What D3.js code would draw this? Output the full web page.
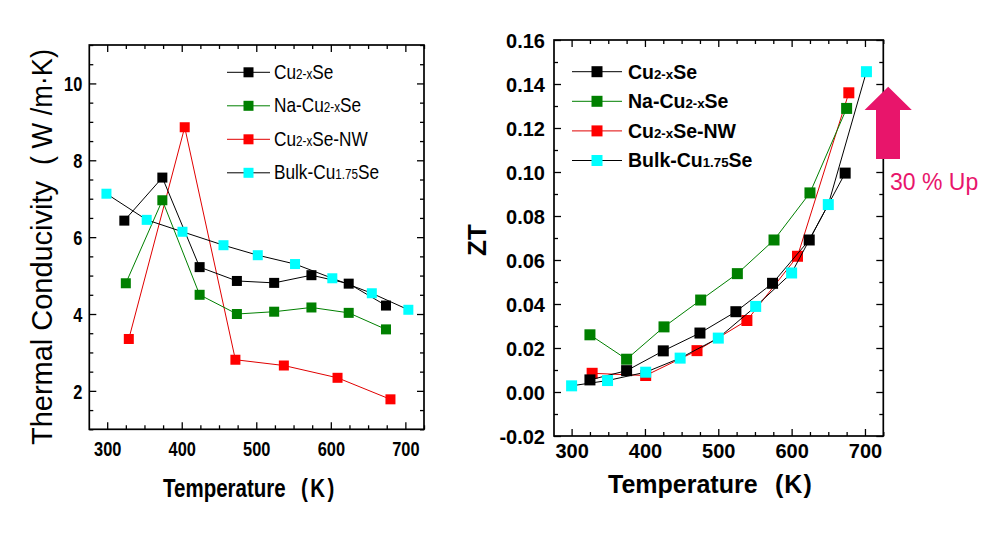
<!DOCTYPE html>
<html>
<head>
<meta charset="utf-8">
<script src="https://cdn.jsdelivr.net/npm/d3@7"></script>
<style>
  body { margin: 0; background: #fff; }
  svg { display: block; }
</style>
</head>
<body>
<script>
// ---------------- DATA ----------------
// Left panel: thermal conductivity (W/m·K)
const tempCuL   = [323, 374, 424, 474, 524, 574, 624, 674];
const kCu       = [6.43, 7.55, 5.22, 4.86, 4.81, 5.01, 4.79, 4.22];
const tempNaL   = [325, 374, 424, 474, 524, 574, 624, 674];
const kNa       = [4.80, 6.96, 4.50, 4.00, 4.06, 4.17, 4.03, 3.60];
const tempNWL   = [329, 404, 472, 537, 609, 680];
const kNW       = [3.35, 8.86, 2.81, 2.66, 2.34, 1.78];
const tempBulkL = [299, 353, 401, 456, 502, 552, 602, 655, 704];
const kBulk     = [7.13, 6.45, 6.14, 5.79, 5.53, 5.30, 4.93, 4.54, 4.11];

// Right panel: ZT
const tempCuR   = [325, 375, 425, 475, 524, 574, 624, 673];
const ztCu      = [0.0055, 0.0097, 0.0187, 0.0268, 0.0365, 0.0494, 0.0691, 0.0995];
const tempNaR   = [325, 375, 426, 476, 526, 576, 625, 675];
const ztNa      = [0.0260, 0.0149, 0.0296, 0.0418, 0.0538, 0.0691, 0.0905, 0.1289];
const tempNWR   = [328, 401, 471, 539, 608, 678];
const ztNW      = [0.0085, 0.0075, 0.0188, 0.0325, 0.0617, 0.1360];
const tempBulkR = [300, 349, 401, 448, 500, 551, 600, 650, 702];
const ztBulk    = [0.0028, 0.0052, 0.0090, 0.0154, 0.0245, 0.0389, 0.0541, 0.0852, 0.1456];

// Legend labels (text in {} is drawn smaller)
const seriesNames = ["Cu{2-x}Se", "Na-Cu{2-x}Se", "Cu{2-x}Se-NW", "Bulk-Cu{1.75}Se"];
const markerColors = ["#000000", "#008000", "#ff0000", "#00ffff"];
const lineColors   = ["#000000", "#008000", "#e00000", "#000000"];

// Tick labels
const xTicks  = [300, 400, 500, 600, 700];
const yTicksL = [2, 4, 6, 8, 10];
const yTicksR = [-0.02, 0, 0.02, 0.04, 0.06, 0.08, 0.10, 0.12, 0.14, 0.16];

const annotation = "30 % Up";

// ---------------- DRAW ----------------
const svg = d3.select("body").append("svg").attr("width", 1003).attr("height", 536);
const NARROW = 0.82;
const FF = "'Liberation Sans', Arial, sans-serif";

function parts(name) {
  const out = [];
  const re = /([^{]+)|\{([^}]*)\}/g;
  let m;
  while ((m = re.exec(name))) {
    if (m[1] !== undefined) out.push({t: m[1], sub: false});
    else out.push({t: m[2], sub: true});
  }
  return out;
}

function panel(cfg) {
  const g = svg.append("g");
  const x = d3.scaleLinear().domain(cfg.xDom).range([cfg.x0, cfg.x1]);
  const y = d3.scaleLinear().domain(cfg.yDom).range([cfg.y1, cfg.y0]);

  const xMinor = d3.range(275, 726, 25).filter(v => v >= cfg.xDom[0] && v <= cfg.xDom[1] && v % 100 !== 0);
  const yMinor = cfg.yMinor;

  const mk = (axisFn, scale, vals, size, fmt) =>
    axisFn(scale).tickValues(vals).tickSize(size).tickFormat(fmt);

  const bottom = g.append("g").attr("transform", `translate(0,${cfg.y1})`)
    .call(mk(d3.axisBottom, x, xTicks, -7, d3.format("d")));
  g.append("g").attr("transform", `translate(0,${cfg.y1})`).call(mk(d3.axisBottom, x, xMinor, -4, ""));
  g.append("g").attr("transform", `translate(0,${cfg.y0})`).call(mk(d3.axisTop, x, xTicks, -7, ""));
  g.append("g").attr("transform", `translate(0,${cfg.y0})`).call(mk(d3.axisTop, x, xMinor, -4, ""));
  const left = g.append("g").attr("transform", `translate(${cfg.x0},0)`)
    .call(mk(d3.axisLeft, y, cfg.yTicks, -7, cfg.yFmt));
  g.append("g").attr("transform", `translate(${cfg.x0},0)`).call(mk(d3.axisLeft, y, yMinor, -4, ""));
  g.append("g").attr("transform", `translate(${cfg.x1},0)`).call(mk(d3.axisRight, y, cfg.yTicks, -7, ""));
  g.append("g").attr("transform", `translate(${cfg.x1},0)`).call(mk(d3.axisRight, y, yMinor, -4, ""));

  g.selectAll(".domain").remove();
  g.selectAll(".tick line").attr("stroke", "#000").attr("stroke-width", 1.3);

  bottom.selectAll("text")
    .attr("y", 0).attr("dy", 0)
    .attr("transform", `translate(0,${cfg.xLabelDy}) scale(${cfg.narrow},1)`)
    .attr("font-family", FF)
    .attr("font-weight", "bold").attr("font-size", cfg.tickFont).attr("fill", "#000");
  left.selectAll("text")
    .attr("x", 0).attr("dy", "0.36em")
    .attr("transform", `translate(${-cfg.yLabelDx},0) scale(${cfg.narrow},1)`)
    .attr("font-family", FF)
    .attr("font-weight", "bold").attr("font-size", cfg.tickFont).attr("fill", "#000");

  // frame
  g.append("rect").attr("x", cfg.x0).attr("y", cfg.y0)
    .attr("width", cfg.x1 - cfg.x0).attr("height", cfg.y1 - cfg.y0)
    .attr("fill", "none").attr("stroke", "#000").attr("stroke-width", 1.7);

  // series: draw order NW, Na, Cu, Bulk
  const order = [2, 1, 0, 3];
  const line = d3.line().x(d => x(d[0])).y(d => y(d[1]));
  order.forEach(i => {
    const s = cfg.series[i];
    const pts = s.t.map((t, j) => [t, s.v[j]]);
    g.append("path").attr("d", line(pts)).attr("fill", "none")
      .attr("stroke", lineColors[i]).attr("stroke-width", 1);
    g.selectAll(null).data(pts).enter().append("rect")
      .attr("x", d => x(d[0]) - cfg.ms / 2).attr("y", d => y(d[1]) - cfg.ms / 2)
      .attr("width", cfg.ms).attr("height", cfg.ms)
      .attr("fill", markerColors[i]);
  });

  // legend
  const lg = cfg.legend;
  seriesNames.forEach((name, i) => {
    const cy = lg.y + i * lg.dy;
    g.append("line").attr("x1", lg.lx0).attr("x2", lg.lx1).attr("y1", cy).attr("y2", cy)
      .attr("stroke", lineColors[i]).attr("stroke-width", 1);
    g.append("rect").attr("x", (lg.lx0 + lg.lx1) / 2 - lg.ms / 2).attr("y", cy - lg.ms / 2)
      .attr("width", lg.ms).attr("height", lg.ms).attr("fill", markerColors[i]);
    const t = g.append("text")
      .attr("transform", `translate(${lg.tx},${cy + lg.base}) scale(${cfg.narrow},1)`)
      .attr("font-family", FF)
      .attr("font-weight", lg.weight).attr("font-size", lg.font).attr("fill", "#000");
    parts(name).forEach(p => {
      t.append("tspan").text(p.t).attr("font-size", p.sub ? lg.font * 0.68 : lg.font);
    });
  });
  return {g, x, y};
}

// Left panel
panel({
  x0: 89.3, x1: 424, y0: 45, y1: 429.3,
  xDom: [276, 725], yDom: [1, 11],
  yTicks: yTicksL, yMinor: d3.range(1, 11.01, 0.5).filter(v => v % 2 !== 0),
  yFmt: d3.format("d"), narrow: NARROW, tickFont: 20, xLabelDy: 27, yLabelDx: 7,
  ms: 10,
  series: [
    {t: tempCuL, v: kCu}, {t: tempNaL, v: kNa}, {t: tempNWL, v: kNW}, {t: tempBulkL, v: kBulk}
  ],
  legend: {y: 72.3, dy: 33.5, lx0: 227, lx1: 270, ms: 10, tx: 274, base: 6.5, font: 21, weight: "normal"}
});

// Right panel
panel({
  x0: 554, x1: 883.3, y0: 40, y1: 436,
  xDom: [276, 725], yDom: [-0.02, 0.16],
  yTicks: yTicksR, yMinor: d3.range(-0.01, 0.16, 0.02),
  yFmt: d => d.toFixed(2), narrow: 1, tickFont: 20, xLabelDy: 22, yLabelDx: 9,
  ms: 11,
  series: [
    {t: tempCuR, v: ztCu}, {t: tempNaR, v: ztNa}, {t: tempNWR, v: ztNW}, {t: tempBulkR, v: ztBulk}
  ],
  legend: {y: 71.7, dy: 29.6, lx0: 572, lx1: 622, ms: 11, tx: 628, base: 6.8, font: 19.5, weight: "bold"}
});

// ---- Axis titles ----
// left y title (rotated, one text element)
const yt = svg.append("text").attr("transform", "translate(52,445) rotate(-90)")
  .attr("font-family", FF).attr("font-size", 29).attr("fill", "#000");
yt.append("tspan").attr("x", 0).attr("textLength", 264).attr("lengthAdjust", "spacingAndGlyphs")
  .text("Thermal Conducivity");
yt.append("tspan").attr("x", 280).attr("textLength", 116).attr("lengthAdjust", "spacingAndGlyphs")
  .text("( W /m·K)");

// left x title (narrow)
const xtL = svg.append("text").attr("transform", `translate(163,497) scale(${NARROW},1)`)
  .attr("font-family", FF).attr("font-weight", "bold").attr("font-size", 25).attr("fill", "#000");
xtL.append("tspan").attr("x", 0).text("Temperature");
xtL.append("tspan").attr("x", (301 - 163) / NARROW).attr("letter-spacing", 3).text("(K)");

// right y title
svg.append("text").attr("transform", "translate(486,240) rotate(-90)")
  .attr("text-anchor", "middle")
  .attr("font-family", FF).attr("font-weight", "bold").attr("font-size", 26).attr("fill", "#000")
  .text("ZT");

// right x title
const xtR = svg.append("text").attr("transform", "translate(608,493)")
  .attr("font-family", FF).attr("font-weight", "bold").attr("font-size", 25).attr("fill", "#000");
xtR.append("tspan").attr("x", 0).text("Temperature");
xtR.append("tspan").attr("x", 167).attr("letter-spacing", 1).text("(K)");

// ---- Arrow annotation ----
const pink = "#e8156b";
svg.append("path")
  .attr("d", "M876,159 L876,110 L864.6,110 L888.2,86.7 L911.8,110 L900,110 L900,159 Z")
  .attr("fill", pink);
svg.append("text").attr("x", 890).attr("y", 190)
  .attr("font-family", FF).attr("font-size", 23).attr("fill", pink)
  .text(annotation);
</script>
</body>
</html>
